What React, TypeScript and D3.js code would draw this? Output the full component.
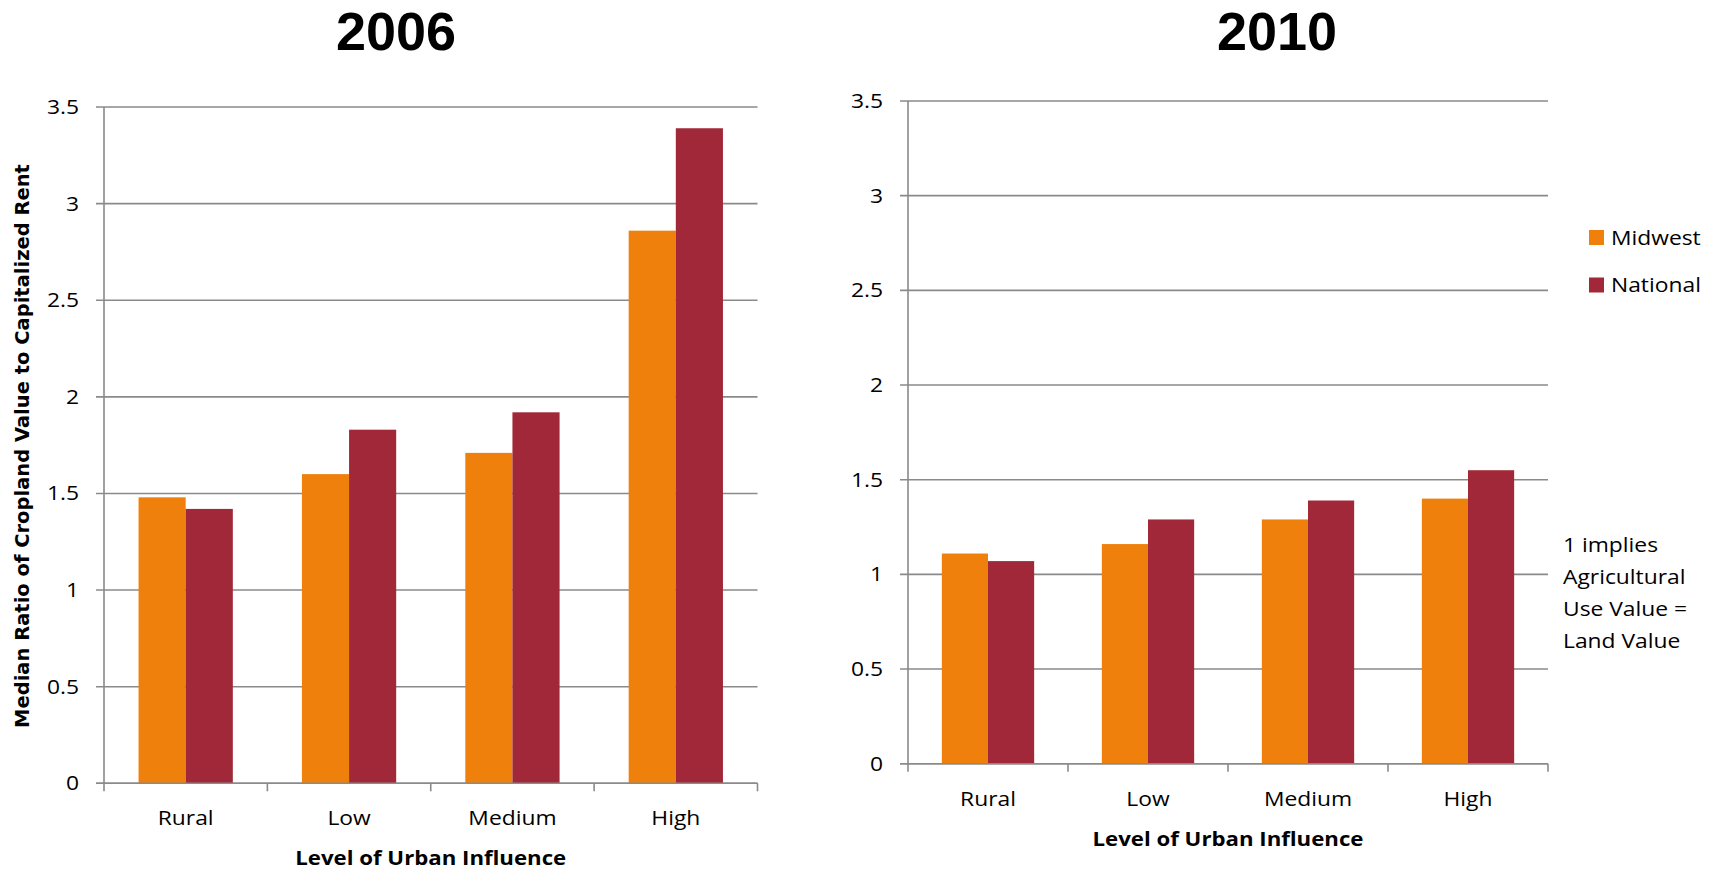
import React from "react";
import * as d3 from "d3";

const categories = ["Rural", "Low", "Medium", "High"];
const seriesNames = ["Midwest", "National"];
const seriesColors = ["#EF800B", "#A12838"];
const midwest2006 = [1.48, 1.6, 1.71, 2.86];
const national2006 = [1.42, 1.83, 1.92, 3.39];
const midwest2010 = [1.11, 1.16, 1.29, 1.4];
const national2010 = [1.07, 1.29, 1.39, 1.55];
const yTicks = [0, 0.5, 1, 1.5, 2, 2.5, 3, 3.5];
const yTickLabels = ["0", "0.5", "1", "1.5", "2", "2.5", "3", "3.5"];
const noteLines = ["1 implies", "Agricultural", "Use Value =", "Land Value"];

const W = 1721;
const H = 871;
const FONT = "'Open Sans', 'DejaVu Sans', sans-serif";
const TITLE_FONT = "'Liberation Sans', Arial, sans-serif";
const SX = 1.17;
const GRID = "#8a8a8a";

type TProps = {
  x: number;
  y: number;
  anchor?: "start" | "middle" | "end";
  size?: number;
  weight?: string | number;
  sx?: number;
  family?: string;
  children: React.ReactNode;
};

function T({ x, y, anchor = "start", size = 19.5, weight = "normal", sx = SX, family = FONT, children }: TProps) {
  return (
    <text
      transform={`translate(${x},${y}) scale(${sx},1)`}
      textAnchor={anchor}
      fontFamily={family}
      fontSize={size}
      fontWeight={weight}
      fill="#000"
    >
      {children}
    </text>
  );
}

type PanelProps = {
  title: string;
  titleX: number;
  x0: number;
  x1: number;
  yZero: number;
  yTop: number;
  series: number[][];
};

function Panel({ title, titleX, x0, x1, yZero, yTop, series }: PanelProps) {
  const y = d3.scaleLinear().domain([0, 3.5]).range([yZero, yTop]);
  const xc = d3.scaleBand<string>().domain(categories).range([x0, x1]).padding(0);
  const step = xc.step();
  const groupW = step * 0.577;
  const xs = d3.scaleBand<string>().domain(seriesNames).range([0, groupW]).padding(0);
  const boundaries = d3.range(categories.length + 1).map((i) => x0 + i * step);

  return (
    <g>
      <T x={titleX} y={50} anchor="middle" size={54} weight="bold" sx={1} family={TITLE_FONT}>
        {title}
      </T>
      {yTicks.map((t, i) => (
        <g key={"g" + i}>
          <line x1={x0 - 8} x2={x1} y1={y(t)} y2={y(t)} stroke={GRID} strokeWidth={1.6} />
          <T x={x0 - 25} y={y(t) + 7} anchor="end">
            {yTickLabels[i]}
          </T>
        </g>
      ))}
      {categories.map((c, ci) => (
        <g key={c}>
          {series.map((s, si) => (
            <rect
              key={si}
              x={(xc(c) as number) + (step - groupW) / 2 + (xs(seriesNames[si]) as number)}
              y={y(s[ci])}
              width={xs.bandwidth()}
              height={yZero - y(s[ci])}
              fill={seriesColors[si]}
            />
          ))}
          <T x={(xc(c) as number) + step / 2} y={yZero + 42} anchor="middle">
            {c}
          </T>
        </g>
      ))}
      <line x1={x0} x2={x0} y1={yTop} y2={yZero} stroke={GRID} strokeWidth={1.6} />
      <line x1={x0 - 8} x2={x1} y1={yZero} y2={yZero} stroke={GRID} strokeWidth={1.6} />
      {boundaries.map((bx, i) => (
        <line key={"t" + i} x1={bx} x2={bx} y1={yZero} y2={yZero + 8} stroke={GRID} strokeWidth={1.6} />
      ))}
      <T x={(x0 + x1) / 2} y={yZero + 82} anchor="middle" size={19} weight="bold">
        Level of Urban Influence
      </T>
    </g>
  );
}

export default function App() {
  return (
    <svg
      width={W}
      height={H}
      viewBox={`0 0 ${W} ${H}`}
      style={{ position: "absolute", left: 0, top: 0, background: "#fff" }}
    >
      <rect x={0} y={0} width={W} height={H} fill="#fff" />
      <Panel
        title="2006"
        titleX={396}
        x0={104}
        x1={757.5}
        yZero={783.3}
        yTop={107}
        series={[midwest2006, national2006]}
      />
      <Panel
        title="2010"
        titleX={1277}
        x0={908}
        x1={1548}
        yZero={763.7}
        yTop={101}
        series={[midwest2010, national2010]}
      />
      <text
        transform="translate(29,446) rotate(-90)"
        textAnchor="middle"
        fontFamily="'DejaVu Sans', Verdana, sans-serif"
        fontWeight="bold"
        fontSize={19.5}
        fill="#000"
      >
        Median Ratio of Cropland Value to Capitalized Rent
      </text>
      {seriesNames.map((n, i) => (
        <g key={n}>
          <rect x={1589} y={230 + i * 47.5} width={15} height={15} fill={seriesColors[i]} />
          <T x={1611} y={244.5 + i * 47.5}>
            {n}
          </T>
        </g>
      ))}
      {noteLines.map((l, i) => (
        <T key={i} x={1563} y={551.5 + i * 32}>
          {l}
        </T>
      ))}
    </svg>
  );
}
